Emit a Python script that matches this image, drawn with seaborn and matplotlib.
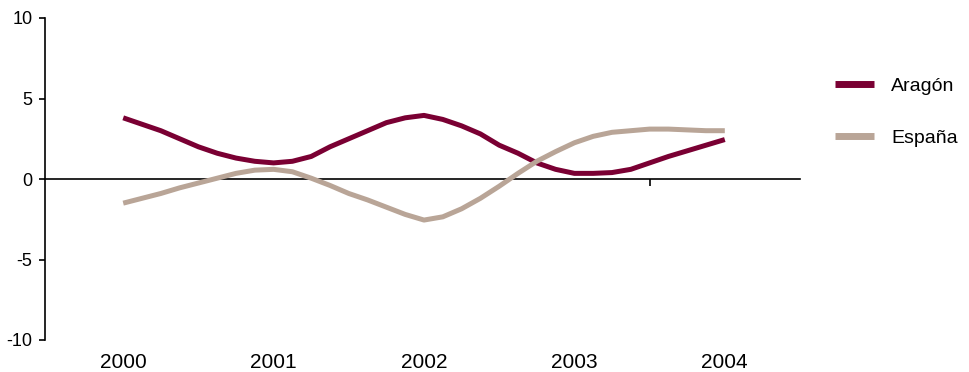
import pandas as pd
import matplotlib
matplotlib.use("Agg")
import matplotlib.pyplot as plt
import seaborn as sns

sns.set_theme(style="white")
plt.rcParams['font.family'] = ['Liberation Sans', 'DejaVu Sans']
plt.rcParams['axes.unicode_minus'] = False
plt.rcParams['text.color'] = 'black'
plt.rcParams['xtick.color'] = 'black'
plt.rcParams['ytick.color'] = 'black'

# Values sampled every 1/8 year from 2000 to 2004
steps = list(range(33))
aragon = [3.8, 3.4, 3.0, 2.5, 2.0, 1.6, 1.3, 1.1, 1.0, 1.1, 1.4, 2.0, 2.5, 3.0, 3.5, 3.8, 3.95,
          3.7, 3.3, 2.8, 2.1, 1.6, 1.0, 0.6, 0.35, 0.35, 0.4, 0.6, 1.0, 1.4, 1.75, 2.1, 2.45]
espana = [-1.5, -1.2, -0.9, -0.55, -0.25, 0.05, 0.35, 0.55, 0.6, 0.45, 0.05, -0.4, -0.9, -1.3,
          -1.75, -2.2, -2.55, -2.35, -1.85, -1.2, -0.45, 0.35, 1.1, 1.7, 2.25, 2.65, 2.9, 3.0,
          3.1, 3.1, 3.05, 3.0, 3.0]
series_names = ["Aragón", "España"]
year_labels = ["2000", "2001", "2002", "2003", "2004"]
colors = {"Aragón": "#7a0033", "España": "#b9a597"}

t = [2000 + s / 8 for s in steps]
df = pd.concat([
    pd.DataFrame({"t": t, "valor": aragon, "serie": series_names[0]}),
    pd.DataFrame({"t": t, "valor": espana, "serie": series_names[1]}),
])

fig = plt.figure(figsize=(9.7, 3.72), dpi=100)
ax = fig.add_axes([45 / 970, 1 - 340 / 372, 755 / 970, 322 / 372])

sns.lineplot(data=df, x="t", y="valor", hue="serie", palette=colors, linewidth=3.6,
             ax=ax, legend=True)
for line in ax.get_lines():
    line.set_solid_capstyle("butt")

ax.set_xlim(1999.48, 2004.5)
ax.set_ylim(-10, 10)
ax.set_yticks([-10, -5, 0, 5, 10])
ax.set_xticks([int(y) for y in year_labels])
ax.set_xticklabels(year_labels)
ax.tick_params(axis="x", length=0, labelsize=15, pad=9)
ax.tick_params(axis="y", left=True, direction="out", length=4, width=1.2,
               color="black", labelsize=13, pad=5)
ax.set_xlabel("")
ax.set_ylabel("")

for side in ["top", "right", "bottom"]:
    ax.spines[side].set_visible(False)
ax.spines["left"].set_color("black")
ax.spines["left"].set_linewidth(1.2)

# zero line with its single tick mark pointing down
zero_axis = ax.secondary_xaxis(0.5)
zero_axis.set_xticks([2003.5])
zero_axis.set_xticklabels([""])
zero_axis.tick_params(direction="in", length=5, width=1.2, color="black")
for sp in zero_axis.spines.values():
    sp.set_color("black")
    sp.set_linewidth(1.2)

handles, labels = ax.get_legend_handles_labels()
for h in handles:
    h.set_linewidth(5)
    h.set_solid_capstyle("butt")
ax.legend(handles, labels, loc="upper left", bbox_to_anchor=(818 / 970, 1 - 60 / 372),
          bbox_transform=fig.transFigure, frameon=False, fontsize=14,
          handlelength=2.0, handletextpad=0.85, labelspacing=1.75)

fig.savefig("out.png", dpi=100)
